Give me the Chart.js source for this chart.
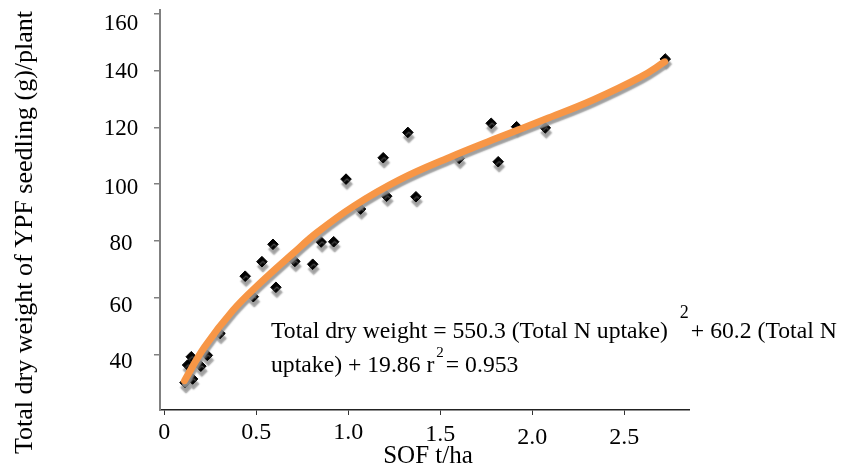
<!DOCTYPE html>
<html><head><meta charset="utf-8">
<script src="https://cdn.jsdelivr.net/npm/chart.js@4.4.1/dist/chart.umd.min.js"></script>
<style>html,body{margin:0;padding:0;background:#fff;}#wrap{width:847px;height:472px;position:relative;}</style>
</head><body><div id="wrap"><canvas id="c" width="847" height="472"></canvas></div>
<script>
// ---- data ----
const sofX = [0.113,0.154,0.147,0.127,0.199,0.234,0.303,0.440,0.484,0.531,0.591,0.607,0.710,0.807,0.853,0.921,0.988,1.067,1.190,1.209,1.324,1.368,1.603,1.777,1.815,1.915,2.071,2.723];
const dryWeight = [30.3,31.6,39.4,36.5,36.1,39.9,47.6,67.7,60.5,72.8,78.9,63.8,72.9,71.9,79.7,79.8,101.8,91.3,109.3,95.8,118.2,95.6,109.1,121.4,107.9,120.2,119.8,144.0];
const trendX = [0.11,0.22,0.375,0.52,0.70,0.83,1.03,1.28,1.55,1.81,2.07,2.33,2.59,2.72];
const trendY = [31.0,42.9,55.8,65.2,75.7,83.0,92.3,101.6,109.4,116.2,122.8,129.6,137.7,143.0];
const xTicks = [0,0.5,1,1.5,2,2.5];
const xTickLabels = ['0','0.5','1.0','1.5','2.0','2.5'];
const yTicks = [40,60,80,100,120,140,160];
const yTickLabels = ['40','60','80','100','120','140','160'];
const xTitle = 'SOF t/ha';
const yTitle = 'Total dry weight of YPF seedling (g)/plant';
const eqLine1a = 'Total dry weight = 550.3 (Total N uptake)';
const eqSup = '2';
const eqLine1b = '+ 60.2 (Total N';
const eqLine2a = 'uptake) + 19.86 r';
const eqLine2b = '= 0.953';

// ---- layout / style (not data) ----
const SERIF = '"Liberation Serif","Times New Roman",serif';
const yLabelBaselineOffset = {40:13,60:13.4,80:9,100:9.7,120:8,140:7.3,160:16.7};
const xLabelBaselines = {0:438.5,0.5:438.5,1:438.5,1.5:440.5,2:443.5,2.5:443.5};

const shadowPlugin = {
  id:'shadow',
  beforeDatasetDraw(chart,args){
    const ctx = chart.ctx; ctx.save();
    ctx.shadowColor = 'rgba(150,150,150,0.9)';
    ctx.shadowBlur = 1.5;
    if (args.index === 0){ ctx.shadowOffsetX = 1; ctx.shadowOffsetY = 3.5; }
    else { ctx.shadowOffsetX = 1; ctx.shadowOffsetY = 5; }
  },
  afterDatasetDraw(chart){ chart.ctx.restore(); }
};

const textPlugin = {
  id:'texts',
  afterDraw(chart){
    const ctx = chart.ctx, xs = chart.scales.x, ys = chart.scales.y;
    ctx.save();
    ctx.fillStyle = '#000';
    ctx.textBaseline = 'alphabetic';
    // y tick labels
    ctx.font = '23px ' + SERIF; ctx.textAlign = 'center';
    yTicks.forEach((v,i)=>{ ctx.fillText(yTickLabels[i], 121, ys.getPixelForValue(v) + yLabelBaselineOffset[v]); });
    // x tick labels
    ctx.font = '24px ' + SERIF;
    xTicks.forEach((v,i)=>{ ctx.fillText(xTickLabels[i], xs.getPixelForValue(v), xLabelBaselines[v]); });
    // x title
    ctx.font = '25px ' + SERIF;
    ctx.fillText(xTitle, 428, 463);
    // y title
    ctx.save(); ctx.translate(32, 232.5); ctx.rotate(-Math.PI/2);
    ctx.font = '26px ' + SERIF; ctx.fillText(yTitle, 0, 0); ctx.restore();
    // equation (segments chained by measured widths)
    ctx.textAlign = 'left';
    const big = '23.7px ' + SERIF;
    ctx.font = big;
    ctx.fillText(eqLine1a, 271, 338);
    let x1 = 271 + ctx.measureText(eqLine1a).width + 12;
    ctx.font = '18px ' + SERIF; ctx.fillText(eqSup, x1, 318);
    x1 += ctx.measureText(eqSup).width + 2;
    ctx.font = big; ctx.fillText(eqLine1b, x1, 338);
    ctx.fillText(eqLine2a, 271, 372);
    let x2 = 271 + ctx.measureText(eqLine2a).width + 2;
    ctx.font = '15px ' + SERIF; ctx.fillText(eqSup, x2, 357);
    x2 += ctx.measureText(eqSup).width + 2;
    ctx.font = big; ctx.fillText(eqLine2b, x2, 372);
    ctx.restore();
  }
};

new Chart(document.getElementById('c'), {
  type:'scatter',
  data:{ datasets:[
    { label:'trend', data: trendX.map((x,i)=>({x:x,y:trendY[i]})), showLine:true,
      borderColor:'#F79646', backgroundColor:'#F79646', borderWidth:7, pointRadius:0,
      tension:0.4, borderCapStyle:'round', clip:false, order:0 },
    { label:'points', data: sofX.map((x,i)=>({x:x,y:dryWeight[i]})), showLine:false,
      pointStyle:'rectRot', pointRadius:5.3, pointBackgroundColor:'#000', pointBorderColor:'#000',
      pointBorderWidth:1, clip:false, order:1 }
  ]},
  options:{
    responsive:false, animation:false, devicePixelRatio:1,
    layout:{ padding:{ left:154, right:158, top:10, bottom:57 } },
    plugins:{ legend:{display:false}, tooltip:{enabled:false}, title:{display:false} },
    scales:{
      x:{ type:'linear', min:-0.023, max:2.852,
          afterBuildTicks:s=>{ s.ticks = xTicks.map(v=>({value:v})); },
          ticks:{display:false},
          grid:{ display:true, drawOnChartArea:false, drawTicks:true, tickLength:5, color:'#333', lineWidth:1 },
          border:{ display:true, color:'#222', width:1.5 } },
      y:{ type:'linear', min:20.7, max:161.2,
          afterBuildTicks:s=>{ s.ticks = yTicks.map(v=>({value:v})); },
          ticks:{display:false},
          grid:{ display:true, drawOnChartArea:false, drawTicks:true, tickLength:6, color:'#808080', lineWidth:1.5 },
          border:{ display:true, color:'#808080', width:2 } }
    }
  },
  plugins:[shadowPlugin, textPlugin]
});
</script></body></html>
